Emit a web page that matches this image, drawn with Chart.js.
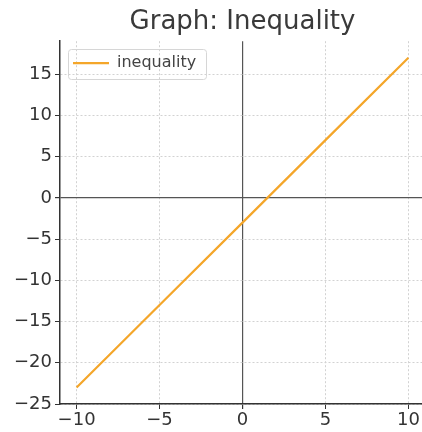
<!DOCTYPE html>
<html>
<head>
<meta charset="utf-8">
<script src="https://cdn.jsdelivr.net/npm/chart.js@4.4.1/dist/chart.umd.min.js"></script>
<style>
html,body{margin:0;padding:0;background:#fff;overflow:hidden;width:422px;height:432px;}
#wrap{position:absolute;left:0;top:0;width:485px;height:432px;}
</style>
</head>
<body>
<div id="wrap"><canvas id="c" width="485" height="432"></canvas></div>
<script>
const titleText = "Graph: Inequality";
const seriesName = "inequality";
const xValues = [-10, -5, 0, 5, 10];
const yValues = [-23, -13, -3, 7, 17];
const xTicks = [-10, -5, 0, 5, 10];
const yTicks = [-25, -20, -15, -10, -5, 0, 5, 10, 15];
const xRange = [-11, 11];
const yRange = [-25, 19];

const fmt = v => (v < 0 ? '\u2212' + Math.abs(v) : String(v));
const FONT = "'DejaVu Sans', sans-serif";
const LEG_PAD = 10;

// Moves the built-in legend inside the plot area (upper left), like matplotlib's legend.
const legendInside = {
  id: 'legendInside',
  beforeLayout(chart) {
    const lg = chart.legend;
    if (lg && !lg.__patched) {
      const origFit = lg.fit;
      lg.fit = function () {
        origFit.call(this);
        this.__realH = this.height;
        this.height = 0;
      };
      lg.__patched = true;
    }
  },
  afterLayout(chart) {
    const lg = chart.legend;
    const ca = chart.chartArea;
    if (!lg || !ca) return;
    const w = lg.right - lg.left;
    lg.left = ca.left + 3;
    lg.right = lg.left + w;
    lg.top = ca.top + 4;
    lg.bottom = lg.top + (lg.__realH || 40);
  },
  afterDraw(chart) {
    const lg = chart.legend;
    if (!lg || !lg.legendHitBoxes || !lg.legendHitBoxes.length) return;
    const hb = lg.legendHitBoxes[0];
    const ctx = chart.ctx;
    const x0 = hb.left - 5, y0 = hb.top - 6;
    const x1 = hb.left + hb.width + 10, y1 = hb.top + hb.height + 8;
    ctx.save();
    ctx.strokeStyle = '#d6d6d6';
    ctx.lineWidth = 1;
    ctx.beginPath();
    ctx.roundRect(Math.round(x0) + 0.5, Math.round(y0) + 0.5, Math.round(x1 - x0), Math.round(y1 - y0), 3);
    ctx.stroke();
    ctx.restore();
  }
};

new Chart(document.getElementById('c'), {
  type: 'scatter',
  data: {
    datasets: [{
      label: seriesName,
      data: xValues.map((x, i) => ({ x: x, y: yValues[i] })),
      showLine: true,
      borderColor: '#f4a62a',
      backgroundColor: '#f4a62a',
      borderWidth: 2.2,
      pointRadius: 0,
      pointHoverRadius: 0,
      tension: 0
    }]
  },
  options: {
    responsive: false,
    animation: false,
    devicePixelRatio: 1,
    layout: { padding: 0 },
    plugins: {
      title: {
        display: true,
        text: titleText,
        color: '#3a3a3a',
        font: { family: FONT, size: 26, weight: 'normal' },
        padding: { top: 7, bottom: 3 }
      },
      legend: {
        position: 'top',
        align: 'start',
        labels: {
          usePointStyle: true,
          pointStyle: 'line',
          pointStyleWidth: 36,
          color: '#444444',
          font: { family: FONT, size: 16 },
          padding: LEG_PAD
        }
      },
      tooltip: { enabled: false }
    },
    scales: {
      x: {
        type: 'linear',
        position: 'bottom',
        min: xRange[0],
        max: xRange[1],
        afterBuildTicks: s => { s.ticks = xTicks.map(v => ({ value: v })); },
        afterFit: s => { s.height = 28; },
        ticks: {
          color: '#333333',
          font: { family: FONT, size: 18 },
          padding: 1,
          maxRotation: 0,
          callback: v => fmt(v)
        },
        grid: {
          color: c => (c.tick && c.tick.value === 0) ? '#555555' : '#d2d2d2',
          lineWidth: c => (c.tick && c.tick.value === 0) ? 1.2 : 1,
          tickColor: '#333333',
          tickLength: 5
        },
        border: {
          display: true,
          color: '#333333',
          width: 1.5,
          dash: c => (c.tick && c.tick.value === 0) ? [] : [2, 2]
        }
      },
      y: {
        type: 'linear',
        position: 'left',
        min: yRange[0],
        max: yRange[1],
        afterBuildTicks: s => { s.ticks = yTicks.map(v => ({ value: v })); },
        afterFit: s => { s.width = 60; },
        ticks: {
          color: '#333333',
          font: { family: FONT, size: 18 },
          padding: 3,
          callback: v => fmt(v)
        },
        grid: {
          color: c => (c.tick && c.tick.value === 0) ? '#555555' : '#d2d2d2',
          lineWidth: c => (c.tick && c.tick.value === 0) ? 1.2 : 1,
          tickColor: '#333333',
          tickLength: 5
        },
        border: {
          display: true,
          color: '#333333',
          width: 1.5,
          dash: c => (c.tick && c.tick.value === 0) ? [] : [2, 2]
        }
      },
      yDummy: {
        type: 'linear',
        position: 'right',
        display: true,
        min: 0,
        max: 1,
        afterFit: s => { s.width = 60; },
        ticks: { display: false },
        grid: { display: false, drawTicks: false },
        border: { display: false }
      }
    }
  },
  plugins: [legendInside]
});
</script>
</body>
</html>
